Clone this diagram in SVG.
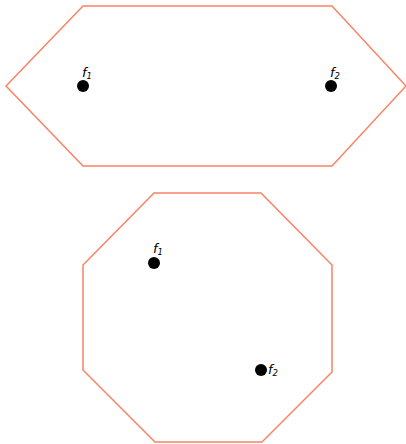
<svg xmlns="http://www.w3.org/2000/svg" width="406" height="444" viewBox="0 0 406 444">
<style>
.shape{fill:none;stroke:#fa8266;stroke-width:1.5}
.dot{fill:#000}
.lbl{font-family:"DejaVu Sans",sans-serif;font-style:italic;font-size:13px;fill:#000}
.sub{font-size:8.5px}
</style>
<rect width="406" height="444" fill="#fff"/>
<g id="hexagon">
<polygon class="shape" points="6,86 83,6 332,6 406,86 332,166 83,166"/>
<circle class="dot" cx="83" cy="86" r="6"/>
<text class="lbl" x="82" y="77">f<tspan class="sub" dy="2">1</tspan></text>
<circle class="dot" cx="331" cy="86" r="6"/>
<text class="lbl" x="330" y="77">f<tspan class="sub" dy="2">2</tspan></text>
</g>
<g id="octagon">
<polygon class="shape" points="154,193 261,193 332,265 332,372 262,442 155,442 83,370 83,265"/>
<circle class="dot" cx="154" cy="263" r="6"/>
<text class="lbl" x="153" y="253">f<tspan class="sub" dy="2">1</tspan></text>
<circle class="dot" cx="261" cy="370" r="6"/>
<text class="lbl" x="268" y="374">f<tspan class="sub" dy="2">2</tspan></text>
</g>
<g id="connectors"/>
</svg>
